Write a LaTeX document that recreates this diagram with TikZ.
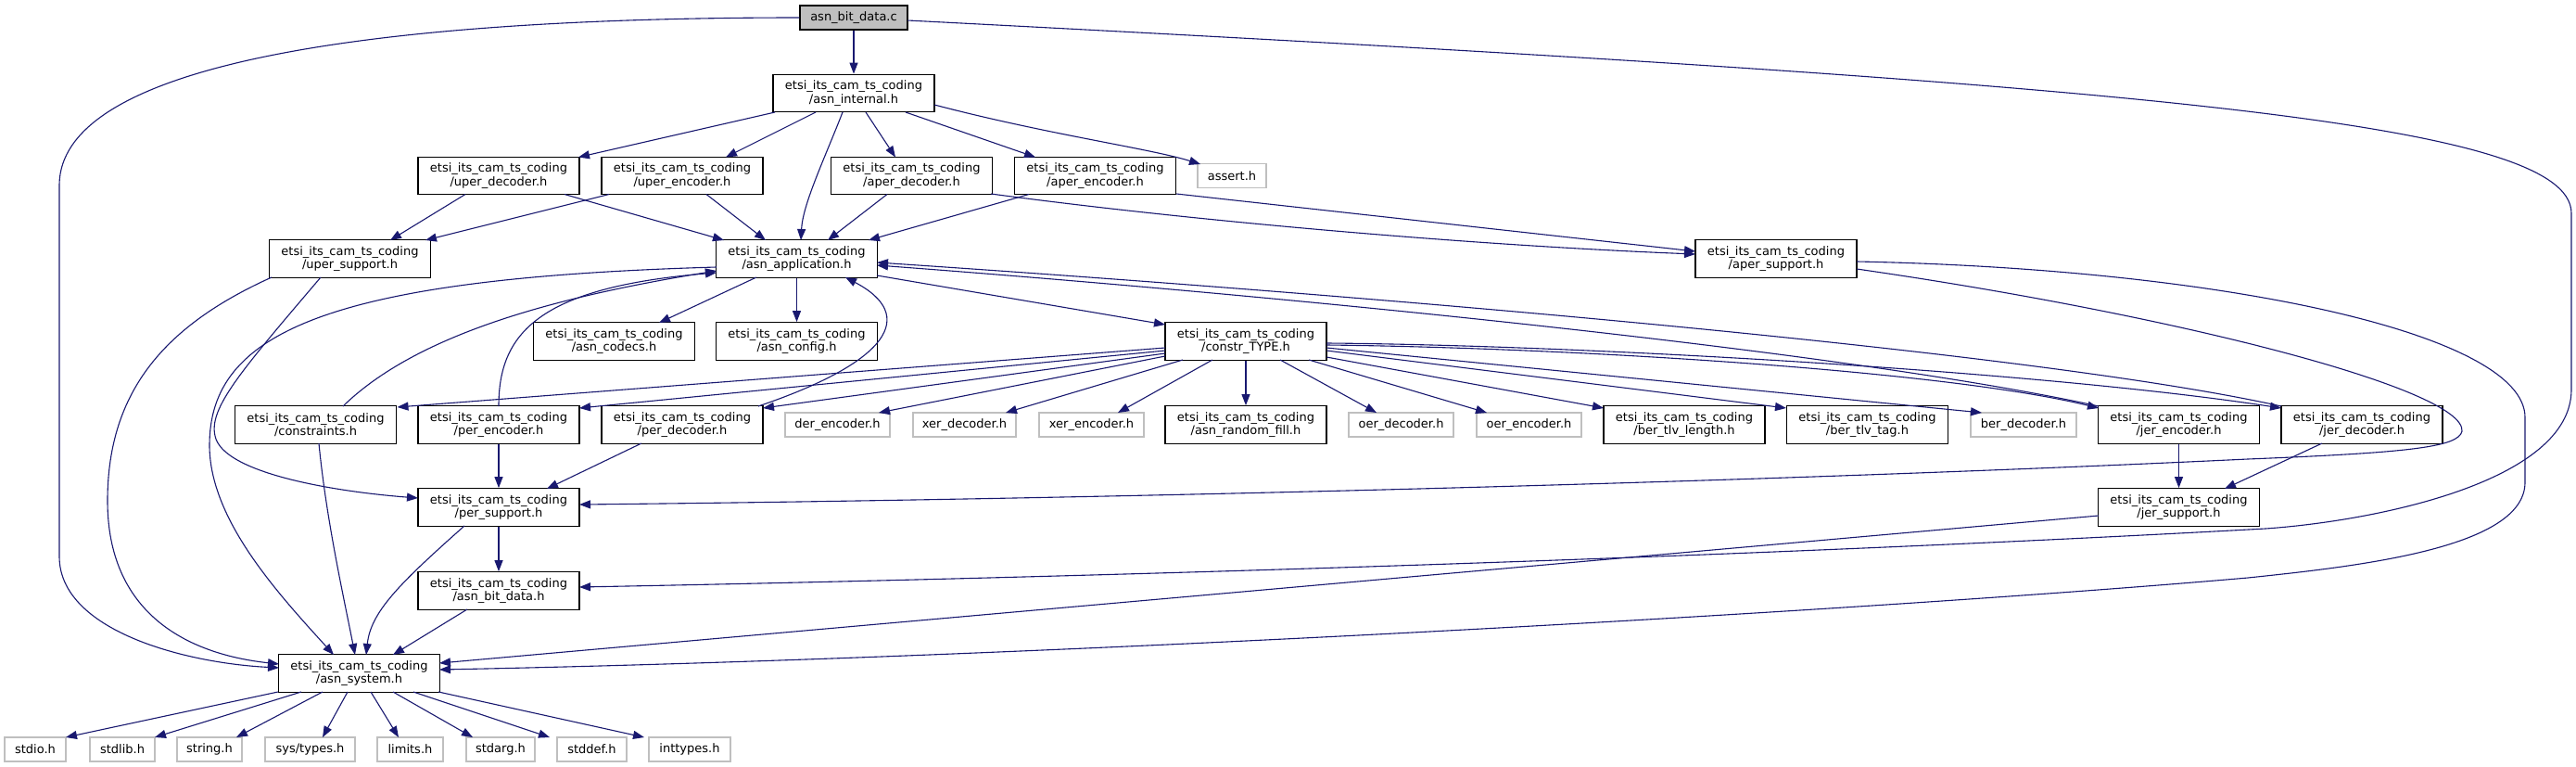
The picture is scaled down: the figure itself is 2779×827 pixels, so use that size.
\documentclass[tikz,border=0pt]{standalone}
\usepackage{fontspec}
\setmainfont{DejaVu Sans}
\usetikzlibrary{arrows.meta,calc}
\definecolor{edgecol}{HTML}{191970}
\definecolor{gborder}{HTML}{BFBFBF}
\definecolor{cfill}{HTML}{BFBFBF}
\begin{document}
\begin{tikzpicture}[x=1pt,y=-1pt,
  box/.style={draw=black, line width=1.3pt, fill=white, inner sep=0pt, minimum width=174pt, minimum height=40.5pt, align=center, font=\fontsize{13}{14.5}\selectfont},
  sbox/.style={draw=gborder, line width=1.2pt, fill=white, inner sep=0pt, minimum height=26pt, font=\fontsize{13}{14.5}\selectfont},
  e/.style={draw=edgecol, line width=1.1pt, -{Triangle[length=12pt,width=9pt]}, edgecol}]
\useasboundingbox (0,0) rectangle (2779,827);
\fill[white] (0,0) rectangle (2779,827);
% nodes
\node[box, minimum width=116pt, minimum height=26pt, fill=cfill] (c) at (921,19) {asn\_bit\_data.c};
\node[box] (internal) at (921,100.5) {etsi\_its\_cam\_ts\_coding\\/asn\_internal.h};
\node[box] (uperdec) at (538,189.5) {etsi\_its\_cam\_ts\_coding\\/uper\_decoder.h};
\node[box] (uperenc) at (736,189.5) {etsi\_its\_cam\_ts\_coding\\/uper\_encoder.h};
\node[box] (aperdec) at (983.5,189.5) {etsi\_its\_cam\_ts\_coding\\/aper\_decoder.h};
\node[box] (aperenc) at (1181.5,189.5) {etsi\_its\_cam\_ts\_coding\\/aper\_encoder.h};
\node[sbox, minimum width=74pt] (assert) at (1329,189.5) {assert.h};
\node[box] (upersup) at (377.5,279) {etsi\_its\_cam\_ts\_coding\\/uper\_support.h};
\node[box] (app) at (859.5,279) {etsi\_its\_cam\_ts\_coding\\/asn\_application.h};
\node[box] (apersup) at (1916,279) {etsi\_its\_cam\_ts\_coding\\/aper\_support.h};
\node[box] (codecs) at (662.5,368) {etsi\_its\_cam\_ts\_coding\\/asn\_codecs.h};
\node[box] (config) at (859.5,368) {etsi\_its\_cam\_ts\_coding\\/asn\_config.h};
\node[box] (constr) at (1344,368) {etsi\_its\_cam\_ts\_coding\\/constr\_TYPE.h};
\node[box] (constraints) at (340.5,458) {etsi\_its\_cam\_ts\_coding\\/constraints.h};
\node[box] (perenc) at (538,458) {etsi\_its\_cam\_ts\_coding\\/per\_encoder.h};
\node[box] (perdec) at (736,458) {etsi\_its\_cam\_ts\_coding\\/per\_decoder.h};
\node[sbox, minimum width=113pt] (derenc) at (903.5,458) {der\_encoder.h};
\node[sbox, minimum width=111pt] (xerdec) at (1040.5,458) {xer\_decoder.h};
\node[sbox, minimum width=113pt] (xerenc) at (1177.5,458) {xer\_encoder.h};
\node[box] (randfill) at (1344,458) {etsi\_its\_cam\_ts\_coding\\/asn\_random\_fill.h};
\node[sbox, minimum width=113pt] (oerdec) at (1511.5,458) {oer\_decoder.h};
\node[sbox, minimum width=113pt] (oerenc) at (1649.5,458) {oer\_encoder.h};
\node[box] (bertlvlen) at (1817,458) {etsi\_its\_cam\_ts\_coding\\/ber\_tlv\_length.h};
\node[box] (bertlvtag) at (2014.5,458) {etsi\_its\_cam\_ts\_coding\\/ber\_tlv\_tag.h};
\node[sbox, minimum width=114pt] (berdec) at (2183,458) {ber\_decoder.h};
\node[box] (jerenc) at (2350.5,458) {etsi\_its\_cam\_ts\_coding\\/jer\_encoder.h};
\node[box] (jerdec) at (2548,458) {etsi\_its\_cam\_ts\_coding\\/jer\_decoder.h};
\node[box] (persup) at (538,547) {etsi\_its\_cam\_ts\_coding\\/per\_support.h};
\node[box] (jersup) at (2350.5,547) {etsi\_its\_cam\_ts\_coding\\/jer\_support.h};
\node[box] (bitdatah) at (538,637) {etsi\_its\_cam\_ts\_coding\\/asn\_bit\_data.h};
\node[box] (system) at (387.5,726) {etsi\_its\_cam\_ts\_coding\\/asn\_system.h};
\node[sbox, minimum width=66pt] (stdio) at (38,808) {stdio.h};
\node[sbox, minimum width=70pt] (stdlib) at (132,808) {stdlib.h};
\node[sbox, minimum width=70pt] (string) at (226,808) {string.h};
\node[sbox, minimum width=97pt] (systypes) at (334.5,808) {sys/types.h};
\node[sbox, minimum width=71pt] (limits) at (442.5,808) {limits.h};
\node[sbox, minimum width=74pt] (stdarg) at (540,808) {stdarg.h};
\node[sbox, minimum width=75pt] (stddef) at (638.5,808) {stddef.h};
\node[sbox, minimum width=88pt] (inttypes) at (744,808) {inttypes.h};
% edges from asn_bit_data.c
\draw[e] (c.south) -- (internal.north);
\draw[e] (c.west) .. controls (500,19) and (64,50) .. (64,200) -- (64,600) .. controls (64,680) and (200,715) .. ($(system)+(-86.5,-6)$);
\draw[e] ($(c)+(58,3)$) .. controls (2300,90) and (2774,130) .. (2774,230) -- (2774,420) .. controls (2774,520) and (2560,562) .. (2444,570) .. controls (1900,600) and (1200,622) .. ($(bitdatah)+(87,-4)$);
% asn_internal.h
\draw[e] ($(internal)+(-85,20.5)$) -- ($(uperdec)+(86,-20)$);
\draw[e] ($(internal)+(-41,20.5)$) -- ($(uperenc)+(47,-20)$);
\draw[e] ($(internal)+(-12,20.5)$) .. controls (890,170) and (866,220) .. ($(app)+(4.5,-20)$);
\draw[e] ($(internal)+(13,20.5)$) -- ($(aperdec)+(-17.5,-20)$);
\draw[e] ($(internal)+(56,20.5)$) -- ($(aperenc)+(-64.5,-20)$);
\draw[e] ($(internal)+(87,12.5)$) .. controls (1130,145) and (1240,160) .. ($(assert)+(-34,-12.5)$);
% row 2
\draw[e] ($(uperdec)+(-36,20)$) -- ($(upersup)+(43.5,-20)$);
\draw[e] ($(uperdec)+(71,20)$) -- ($(app)+(-78.5,-20)$);
\draw[e] ($(uperenc)+(-79,20)$) -- ($(upersup)+(81.5,-20)$);
\draw[e] ($(uperenc)+(26,20)$) -- ($(app)+(-33.5,-20)$);
\draw[e] ($(aperdec)+(-26.5,20)$) -- ($(app)+(33.5,-20)$);
\draw[e] ($(aperenc)+(-71.5,20)$) -- ($(app)+(77.5,-20)$);
\draw[e] ($(aperdec)+(85.5,19.5)$) .. controls (1300,240) and (1600,265) .. ($(apersup)+(-87,-5)$);
\draw[e] ($(aperenc)+(87.5,19.5)$) -- ($(apersup)+(-87,-8)$);
% uper_support.h
\draw[e] ($(upersup)+(-84.5,20)$) .. controls (180,350) and (116,420) .. (116,540) .. controls (116,660) and (200,705) .. ($(system)+(-86.5,-10)$);
\draw[e] ($(upersup)+(-31.5,20)$) .. controls (260,400) and (225,440) .. (232,470) .. controls (240,510) and (360,530) .. ($(persup)+(-87,-10)$);
% asn_application.h
\draw[e] ($(app)+(-86.5,9)$) .. controls (350,300) and (226,360) .. (226,480) .. controls (226,560) and (300,640) .. ($(system)+(-27.5,-20)$);
\draw[e] ($(constraints)+(29.5,-20)$) .. controls (450,360) and (600,320) .. ($(app)+(-86.5,13)$);
\draw[e] ($(perenc)+(0,-20)$) .. controls (538,360) and (580,310) .. ($(app)+(-86.5,15)$);
\draw[e] ($(perdec)+(82,-20)$) .. controls (960,390) and (990,340) .. ($(app)+(52.5,20)$);
\draw[e] ($(app)+(-43.5,20)$) -- ($(codecs)+(48.5,-20)$);
\draw[e] (app.south) -- (config.north);
\draw[e] ($(app)+(86.5,18)$) -- ($(constr)+(-87,-18)$);
\draw[e] ($(jerenc)+(-86.5,-20)$) .. controls (2000,380) and (1400,320) .. ($(app)+(86.5,7)$);
\draw[e] ($(jerdec)+(-87,-20)$) .. controls (2200,380) and (1500,320) .. ($(app)+(86.5,4)$);
% constr_TYPE.h
\draw[e] ($(constr)+(-87,7)$) -- ($(constraints)+(88,-19)$);
\draw[e] ($(constr)+(-87,10)$) -- ($(perenc)+(87,-18)$);
\draw[e] ($(constr)+(-87,13)$) -- ($(perdec)+(87,-18)$);
\draw[e] ($(constr)+(-87,16)$) -- ($(derenc)+(44.5,-13)$);
\draw[e] ($(constr)+(-68,20)$) -- ($(xerdec)+(44.5,-13)$);
\draw[e] ($(constr)+(-36,20)$) -- ($(xerenc)+(28.5,-13)$);
\draw[e] (constr.south) -- (randfill.north);
\draw[e] ($(constr)+(37,20)$) -- ($(oerdec)+(-26.5,-13)$);
\draw[e] ($(constr)+(68,20)$) -- ($(oerenc)+(-45.5,-13)$);
\draw[e] ($(constr)+(87,17)$) -- ($(bertlvlen)+(-87,-18)$);
\draw[e] ($(constr)+(87,10)$) -- ($(bertlvtag)+(-87.5,-18)$);
\draw[e] ($(constr)+(87,7)$) -- ($(berdec)+(-45,-13)$);
\draw[e] ($(constr)+(87,4)$) .. controls (1700,375) and (2100,400) .. ($(jerenc)+(-86.5,-18)$);
\draw[e] ($(constr)+(87,2)$) .. controls (1700,372) and (2200,400) .. ($(jerdec)+(-87,-18)$);
% row 5 to row 6
\draw[e] (perenc.south) -- (persup.north);
\draw[e] ($(perdec)+(-44,20)$) -- ($(persup)+(52,-20)$);
\draw[e] (jerenc.south) -- (jersup.north);
\draw[e] ($(jerdec)+(-43,20)$) -- ($(jersup)+(49.5,-20)$);
% aper_support.h
\draw[e] ($(apersup)+(87,11)$) .. controls (2350,340) and (2660,420) .. (2656,465) .. controls (2652,482) and (2600,488) .. (2425,495) .. controls (1900,520) and (1200,538) .. ($(persup)+(87,-3)$);
\draw[e] ($(apersup)+(87,3)$) .. controls (2400,290) and (2724,360) .. (2724,450) -- (2724,520) .. controls (2724,590) and (2550,610) .. (2425,623) .. controls (2000,660) and (1100,710) .. ($(system)+(86.5,-4)$);
% supports
\draw[e] ($(jersup)+(-86.5,9)$) -- ($(system)+(86.5,-11)$);
\draw[e] (persup.south) -- (bitdatah.north);
\draw[e] ($(persup)+(-37,20)$) .. controls (430,630) and (400,660) .. ($(system)+(7.5,-20)$);
\draw[e] ($(bitdatah)+(-34,20)$) -- ($(system)+(36.5,-20)$);
\draw[e] ($(constraints)+(3.5,20)$) .. controls (352,560) and (370,640) .. ($(system)+(-4.5,-20)$);
% asn_system.h
\draw[e] ($(system)+(-87.5,20)$) -- ($(stdio)+(33,-13)$);
\draw[e] ($(system)+(-62.5,20)$) -- ($(stdlib)+(35,-13)$);
\draw[e] ($(system)+(-39.5,20)$) -- ($(string)+(29,-13)$);
\draw[e] ($(system)+(-12.5,20)$) -- ($(systypes)+(13.5,-13)$);
\draw[e] ($(system)+(12.5,20)$) -- ($(limits)+(-12.5,-13)$);
\draw[e] ($(system)+(36.5,20)$) -- ($(stdarg)+(-30,-13)$);
\draw[e] ($(system)+(58.5,20)$) -- ($(stddef)+(-45.5,-13)$);
\draw[e] ($(system)+(85.5,20)$) -- ($(inttypes)+(-49,-13)$);
\end{tikzpicture}
\end{document}
